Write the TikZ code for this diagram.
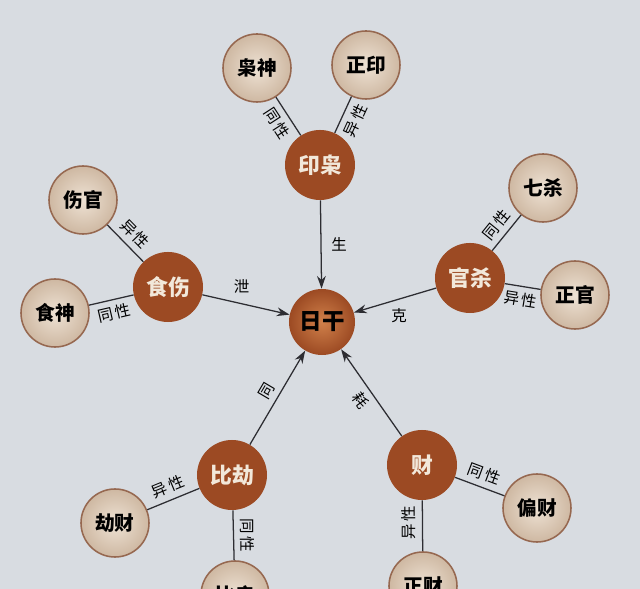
\documentclass[tikz,border=0pt]{standalone}
\usepackage{fontspec}
\usepackage{tikz}
\usetikzlibrary{arrows.meta, positioning, shapes.geometric}
\newfontfamily\cjk{Noto Sans CJK SC}
\definecolor{bgpaper}{RGB}{216,220,225}
\definecolor{ganbrown}{RGB}{156,74,35}
\definecolor{dayin}{RGB}{208,128,74}
\definecolor{ringbrown}{RGB}{150,104,80}
\definecolor{satin}{RGB}{238,226,212}
\definecolor{satout}{RGB}{206,184,162}
\definecolor{linegray}{RGB}{45,45,50}
\definecolor{textcream}{RGB}{242,232,218}

\begin{document}
\begin{tikzpicture}[x=0.025cm, y=-0.025cm,
    group/.style={circle, fill=ganbrown, minimum size=1.75cm, inner sep=0pt, text=textcream, font=\cjk\fontsize{15.5}{17}\selectfont\bfseries},
    member/.style={circle, draw=ringbrown, line width=1.1pt, inner color=satin, outer color=satout, minimum size=1.7cm, inner sep=0pt, font=\cjk\fontsize{14}{16}\selectfont\bfseries},
    day/.style={circle, inner color=dayin, outer color=ganbrown, minimum size=1.65cm, inner sep=0pt, font=\cjk\fontsize{16}{18}\selectfont\bfseries},
    arrow/.style={-{Stealth[length=3.2mm, width=2.2mm]}, line width=0.9pt, linegray},
    link/.style={line width=0.9pt, linegray},
    relation/.style={font=\cjk\fontsize{11}{12}\selectfont, text=black, inner sep=4pt}
]

% Paper
\useasboundingbox (0,0) rectangle (640,589);
\clip (0,0) rectangle (640,589);
\fill[bgpaper] (0,0) rectangle (640,589);

% Day master
\node[day] (rigan) at (322, 322) {日干};

% Groups
\node[group] (yinxiao) at (320, 165) {印枭};
\node[group] (shishang) at (168, 287) {食伤};
\node[group] (guansha) at (470, 278) {官杀};
\node[group] (bijie) at (232, 475) {比劫};
\node[group] (cai) at (422, 465) {财};

% Members
\node[member] (xiaoshen) at (257, 68) {枭神};
\node[member] (zhengyin) at (366, 65) {正印};
\node[member] (shangguan) at (83, 200) {伤官};
\node[member] (shishen) at (55, 313) {食神};
\node[member] (qisha) at (543, 188) {七杀};
\node[member] (zhengguan) at (575, 295) {正官};
\node[member] (jiecai) at (115, 523) {劫财};
\node[member] (bijian) at (235, 595) {比肩};
\node[member] (piancai) at (537, 508) {偏财};
\node[member] (zhengcai) at (423, 586) {正财};

% Arrows into the day master
\draw[arrow] (yinxiao) -- node[relation, right, xshift=3pt] {生} (rigan);
\draw[arrow] (shishang) -- node[relation, above, pos=0.45, yshift=3pt] {泄} (rigan);
\draw[arrow] (guansha) -- node[relation, below, pos=0.45, yshift=-2pt] {克} (rigan);
\draw[arrow] (bijie) -- node[relation, sloped, above] {同} (rigan);
\draw[arrow] (cai) -- node[relation, sloped, below] {耗} (rigan);

% Links to members
\draw[link] (xiaoshen) -- node[relation, sloped, below] {同\,性} (yinxiao);
\draw[link] (zhengyin) -- node[relation, sloped, below] {异\,性} (yinxiao);
\draw[link] (shangguan) -- node[relation, sloped, above] {异\,性} (shishang);
\draw[link] (shishen) -- node[relation, sloped, below] {同\,性} (shishang);
\draw[link] (qisha) -- node[relation, sloped, above] {同\,性} (guansha);
\draw[link] (guansha) -- node[relation, sloped, below] {异\,性} (zhengguan);
\draw[link] (jiecai) -- node[relation, sloped, above] {异\,性} (bijie);
\draw[link] (bijie) -- node[relation, rotate=-90, anchor=south] {同\,性} (bijian);
\draw[link] (cai) -- node[relation, sloped, above] {同\,性} (piancai);
\draw[link] (cai) -- node[relation, rotate=90, anchor=south, pos=0.45] {异\,性} (zhengcai);

\end{tikzpicture}
\end{document}
